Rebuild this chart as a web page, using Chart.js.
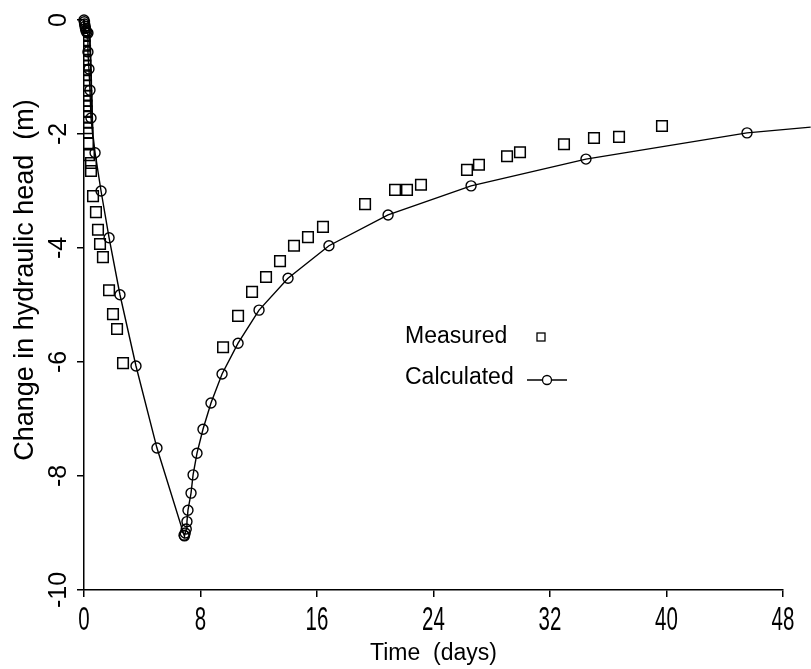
<!DOCTYPE html>
<html>
<head>
<meta charset="utf-8">
<script src="https://cdn.jsdelivr.net/npm/chart.js@4.4.0/dist/chart.umd.min.js"></script>
<style>
  html, body { margin: 0; background: #fff; }
  #wrap { width: 811px; height: 669px; }
</style>
</head>
<body>
<div id="wrap"><canvas id="chart" width="811" height="669"></canvas></div>
<script>
// measured drawdown / recovery (squares)
const measuredT = [0, 0, 0.02, 0.03, 0.04, 0.05, 0.07, 0.08, 0.09, 0.1, 0.11, 0.12, 0.13, 0.14,
  0.15, 0.16, 0.17, 0.18, 0.19, 0.2, 0.21, 0.22, 0.24, 0.27, 0.34, 0.48, 0.48,
  0.62, 0.82, 0.96, 1.10, 1.30, 1.72, 1.99, 2.27, 2.68,
  9.55, 10.58, 11.54, 12.50, 13.46, 14.42, 15.38, 16.41, 19.30, 21.36, 22.18, 23.14,
  26.30, 27.12, 29.05, 29.94, 32.96, 35.02, 36.74, 39.69];
const measuredH = [-0.05, -0.12, -0.2, -0.28, -0.37, -0.45, -0.54, -0.62, -0.7, -0.8, -0.88, -0.97, -1.06, -1.15,
  -1.24, -1.33, -1.42, -1.5, -1.6, -1.7, -1.8, -1.9, -1.98, -2.16, -2.37, -2.51, -2.65,
  -3.09, -3.37, -3.68, -3.93, -4.16, -4.74, -5.16, -5.42, -6.02,
  -5.74, -5.19, -4.77, -4.51, -4.23, -3.96, -3.81, -3.63, -3.23, -2.98, -2.98, -2.89,
  -2.63, -2.54, -2.39, -2.32, -2.18, -2.07, -2.05, -1.86];

// calculated curve (circles); last point only carries the line to the edge
const calcT = [0, 0.02, 0.04, 0.07, 0.1, 0.14, 0.2, 0.27, 0.27, 0.34, 0.41, 0.48, 0.76, 1.17, 1.72, 2.47,
  3.57, 5.01, 6.87, 6.9, 6.95, 7.02, 7.07, 7.14, 7.35, 7.49, 7.76, 8.17, 8.72, 9.48, 10.58,
  12.02, 14.01, 16.82, 20.88, 26.58, 34.47, 45.53, 49.9];
const calcH = [0, -0.03, -0.07, -0.11, -0.15, -0.19, -0.22, -0.23, -0.56, -0.86, -1.23, -1.72, -2.33, -3.0, -3.82, -4.82,
  -6.07, -7.51, -9.04, -9.05, -9.0, -8.93, -8.8, -8.6, -8.3, -7.98, -7.6, -7.18, -6.72, -6.21, -5.67,
  -5.09, -4.53, -3.96, -3.42, -2.91, -2.44, -1.98, -1.88];

const timeTicks = [0, 8, 16, 24, 32, 40, 48];
const headTicks = [0, -2, -4, -6, -8, -10];

const FONT = "'Liberation Sans', Arial, sans-serif";

const toPoints = (xs, ys) => xs.map((x, i) => ({ x, y: ys[i] }));

// extra text the library can't lay out like the figure:
// narrow x tick digits, off-centre y title, label-then-marker legend
const annotations = {
  id: "annotations",
  afterDraw(chart) {
    const c = chart.ctx;
    const xs = chart.scales.x;
    c.save();
    c.fillStyle = "#000";
    c.strokeStyle = "#000";

    // x tick labels, condensed
    c.font = "33px " + FONT;
    c.textAlign = "center";
    c.textBaseline = "middle";
    timeTicks.forEach(v => {
      c.save();
      c.translate(xs.getPixelForValue(v), 621);
      c.scale(0.62, 1);
      c.fillText(String(v), 0, 0);
      c.restore();
    });

    // y title
    c.save();
    c.translate(26, 280);
    c.rotate(-Math.PI / 2);
    c.font = "27px " + FONT;
    c.fillText("Change in hydraulic head  (m)", 0, 0);
    c.restore();

    // legend
    c.textAlign = "left";
    c.font = "23px " + FONT;
    c.fillText("Measured", 405, 337);
    c.fillText("Calculated", 405, 378);
    c.lineWidth = 1.3;
    c.strokeRect(537, 333, 8, 8);
    c.beginPath();
    c.moveTo(527, 380);
    c.lineTo(567, 380);
    c.stroke();
    c.beginPath();
    c.arc(547, 380, 4.5, 0, Math.PI * 2);
    c.fillStyle = "#fff";
    c.fill();
    c.stroke();
    c.restore();
  }
};

new Chart(document.getElementById("chart"), {
  type: "scatter",
  data: {
    datasets: [
      {
        label: "Measured",
        data: toPoints(measuredT, measuredH),
        pointStyle: "rect",
        pointRadius: 7.5,
        borderColor: "#000",
        backgroundColor: "rgba(255,255,255,0)",
        borderWidth: 1.5,
        showLine: false
      },
      {
        label: "Calculated",
        data: toPoints(calcT, calcH),
        pointStyle: "circle",
        pointRadius: ctx => (ctx.dataIndex === calcT.length - 1 ? 0 : 5),
        borderColor: "#000",
        backgroundColor: "rgba(255,255,255,0)",
        borderWidth: 1.4,
        showLine: true,
        tension: 0,
        clip: false
      }
    ]
  },
  options: {
    responsive: false,
    animation: false,
    devicePixelRatio: 1,
    layout: { padding: { left: 0, right: 28, top: 20, bottom: 0 } },
    plugins: { legend: { display: false }, tooltip: { enabled: false } },
    scales: {
      x: {
        type: "linear",
        min: 0,
        max: 48,
        afterBuildTicks: s => { s.ticks = timeTicks.map(v => ({ value: v })); },
        afterFit: s => { s.height = 79; },
        grid: { display: true, drawOnChartArea: false, drawTicks: true, tickLength: 7, color: "#000", lineWidth: 1.5 },
        border: { display: true, color: "#000", width: 1.5 },
        ticks: { display: false },
        title: { display: true, text: "Time  (days)", color: "#000", font: { family: FONT, size: 23 }, padding: { top: 0, bottom: 2 } }
      },
      y: {
        type: "linear",
        min: -10,
        max: 0,
        afterBuildTicks: s => { s.ticks = headTicks.map(v => ({ value: v })); },
        afterFit: s => { s.width = 84; },
        grid: { display: true, drawOnChartArea: false, drawTicks: true, tickLength: 7, color: "#000", lineWidth: 1.5 },
        border: { display: true, color: "#000", width: 1.5 },
        ticks: { color: "#000", font: { family: FONT, size: 25 }, padding: 0, minRotation: 90, maxRotation: 90, crossAlign: "center" },
        title: { display: false }
      }
    }
  },
  plugins: [annotations]
});
</script>
</body>
</html>
